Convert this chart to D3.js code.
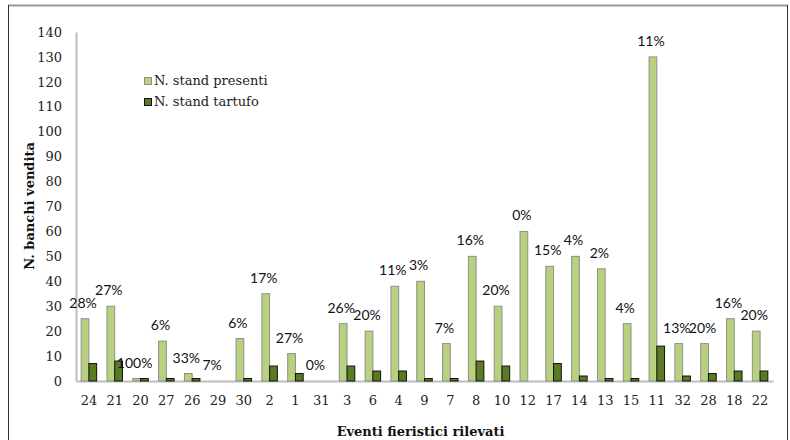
<!DOCTYPE html>
<html>
<head>
<meta charset="utf-8">
<script src="https://cdn.jsdelivr.net/npm/d3@7"></script>
<style>
  body { margin: 0; background: #fff; }
</style>
</head>
<body>
<div id="chart"></div>
<script>
// event codes on the x axis
const eventi = ['24', '21', '20', '27', '26', '29', '30', '2', '1', '31', '3', '6', '4', '9',
  '7', '8', '10', '12', '17', '14', '13', '15', '11', '32', '28', '18', '22'];
// N. stand presenti
const presenti = [25, 30, 1, 16, 3, 0, 17, 35, 11, 0, 23, 20, 38, 40,
  15, 50, 30, 60, 46, 50, 45, 23, 130, 15, 15, 25, 20];
// N. stand tartufo
const tartufo = [7, 8, 1, 1, 1, 0, 1, 6, 3, 0, 6, 4, 4, 1,
  1, 8, 6, 0, 7, 2, 1, 1, 14, 2, 3, 4, 4];
// percentage labels
const percentuali = ['28%', '27%', '100%', '6%', '33%', '7%', '6%', '17%', '27%', '0%', '26%', '20%', '11%', '3%',
  '7%', '16%', '20%', '0%', '15%', '4%', '2%', '4%', '11%', '13%', '20%', '16%', '20%'];
const yTicks = d3.range(0, 141, 10);

const width = 790;
const height = 440;
const margin = { top: 32, right: 17, bottom: 59, left: 76 };
const contentWidth = width - margin.left - margin.right;
const contentHeight = height - margin.top - margin.bottom;

const colLight = '#b7d17f';
const colDark = '#5b7b22';
const serif = '"DejaVu Serif", serif';

const svg = d3.select('#chart')
  .append('svg')
  .attr('width', width)
  .attr('height', height);

// outer frame
svg.append('line').attr('x1', 8).attr('x2', 788).attr('y1', 5.5).attr('y2', 5.5)
  .attr('stroke', '#9a9a9a').attr('stroke-width', 2);
svg.append('line').attr('x1', 8.5).attr('x2', 8.5).attr('y1', 5).attr('y2', 440)
  .attr('stroke', '#333').attr('stroke-width', 1);
svg.append('line').attr('x1', 787.5).attr('x2', 787.5).attr('y1', 5).attr('y2', 440)
  .attr('stroke', '#333').attr('stroke-width', 1);

const g = svg.append('g')
  .attr('transform', `translate(${margin.left},${margin.top})`);

const x = d3.scaleBand()
  .domain(eventi)
  .range([0, contentWidth])
  .paddingInner(0.4)
  .paddingOuter(0.2);

const x1 = d3.scaleBand()
  .domain(['presenti', 'tartufo'])
  .range([0, x.bandwidth()]);

const y = d3.scaleLinear()
  .domain([0, 140])
  .range([contentHeight, 0]);

// y axis
const yAxis = g.append('g')
  .call(d3.axisLeft(y).tickValues(yTicks).tickSize(0).tickPadding(14));
yAxis.select('.domain').attr('stroke', '#bdbdbd').attr('stroke-width', 2);
yAxis.selectAll('text')
  .attr('font-family', serif)
  .attr('font-size', 13)
  .attr('fill', '#222');

// x axis
const xAxis = g.append('g')
  .attr('transform', `translate(0,${contentHeight})`)
  .call(d3.axisBottom(x).tickSize(0).tickPadding(15));
xAxis.select('.domain').attr('stroke', '#bdbdbd').attr('stroke-width', 2);
xAxis.selectAll('text')
  .attr('font-family', serif)
  .attr('font-size', 13)
  .attr('fill', '#222');

// bars
const groups = g.selectAll('.evento')
  .data(eventi)
  .join('g')
  .attr('class', 'evento')
  .attr('transform', (d) => `translate(${x(d)},0)`);

groups.append('rect')
  .attr('x', x1('presenti'))
  .attr('y', (d, i) => y(presenti[i]))
  .attr('width', x1.bandwidth())
  .attr('height', (d, i) => contentHeight - y(presenti[i]))
  .attr('fill', colLight)
  .attr('stroke', '#8f8f8f')
  .attr('stroke-width', (d, i) => (presenti[i] > 0 ? 1 : 0));

groups.append('rect')
  .attr('x', x1('tartufo'))
  .attr('y', (d, i) => y(tartufo[i]))
  .attr('width', x1.bandwidth())
  .attr('height', (d, i) => contentHeight - y(tartufo[i]))
  .attr('fill', colDark)
  .attr('stroke', '#111')
  .attr('stroke-width', (d, i) => (tartufo[i] > 0 ? 1 : 0));

// percentage labels
groups.append('text')
  .attr('x', x1('presenti') + x1.bandwidth() / 2 - 2)
  .attr('y', (d, i) => y(presenti[i]) - 11)
  .attr('text-anchor', 'middle')
  .attr('font-family', 'Lato, sans-serif')
  .attr('font-size', 14)
  .attr('fill', '#111')
  .text((d, i) => percentuali[i]);

// legend
const legend = svg.append('g')
  .attr('transform', 'translate(144,76)');
const legendItems = [
  { label: 'N. stand presenti', color: colLight, stroke: '#8f8f8f' },
  { label: 'N. stand tartufo', color: colDark, stroke: '#111' },
];
legendItems.forEach((item, i) => {
  const row = legend.append('g').attr('transform', `translate(0,${i * 21})`);
  row.append('rect')
    .attr('x', 0.5).attr('y', 1.5)
    .attr('width', 7).attr('height', 7)
    .attr('fill', item.color)
    .attr('stroke', item.stroke);
  row.append('text')
    .attr('x', 10).attr('y', 9)
    .attr('font-family', serif)
    .attr('font-size', 13)
    .attr('fill', '#222')
    .text(item.label);
});

// axis titles
svg.append('text')
  .attr('x', margin.left + contentWidth / 2 - 4)
  .attr('y', 436)
  .attr('text-anchor', 'middle')
  .attr('font-family', serif)
  .attr('font-weight', 'bold')
  .attr('font-size', 13)
  .attr('fill', '#111')
  .text('Eventi fieristici rilevati');

svg.append('text')
  .attr('transform', 'translate(34,206) rotate(-90)')
  .attr('text-anchor', 'middle')
  .attr('font-family', serif)
  .attr('font-weight', 'bold')
  .attr('font-size', 13)
  .attr('fill', '#111')
  .text('N. banchi vendita');
</script>
</body>
</html>
